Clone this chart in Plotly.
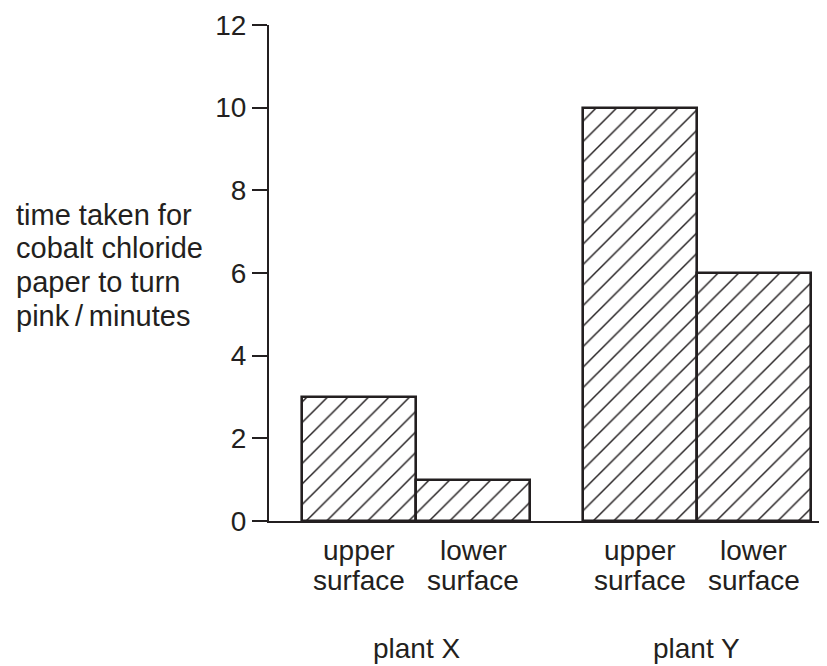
import plotly.graph_objects as go

plants = ["plant X", "plant Y"]
surface_top = ["upper", "lower"]
surface_bottom = ["surface", "surface"]
times = [3, 1, 10, 6]  # minutes: X upper, X lower, Y upper, Y lower
y_ticks = [0, 2, 4, 6, 8, 10, 12]
y_title_lines = ["time taken for", "cobalt chloride", "paper to turn", "pink\u2009/\u2009minutes"]

INK = "#231f20"
FONT = "Liberation Sans, Arial, sans-serif"
FS = 28

W, H = 819, 658
ML, MR, MT, MB = 261, 5, 17, 145
PLOT_H = H - MT - MB
PLOT_W = W - ML - MR


def py(fig_y):
    """pixel row (figure coords) -> paper y"""
    return (H - MB - fig_y) / PLOT_H


def px(fig_x):
    return (fig_x - ML) / PLOT_W


# bar centres in axis units (1 unit = bar width)
first_center = 0.79
group_step = 2.46
xs = []
tops = []
bottoms = []
for g in range(len(plants)):
    for i in range(len(surface_top)):
        xs.append(first_center + g * group_step + i)
        tops.append(surface_top[i])
        bottoms.append(surface_bottom[i])

fig = go.Figure()
fig.add_trace(go.Bar(
    x=xs, y=times, width=1,
    marker=dict(color="white",
                line=dict(color=INK, width=2.6),
                pattern=dict(shape="/", fgcolor=INK, bgcolor="white", size=14.5, solidity=0.1)),
    showlegend=False, hoverinfo="skip",
))

font = dict(family=FONT, size=FS, color=INK)
for x, t, b in zip(xs, tops, bottoms):
    fig.add_annotation(x=x, y=py(542), xref="x", yref="paper", text=t, showarrow=False,
                       font=font, yanchor="middle")
    fig.add_annotation(x=x, y=py(572), xref="x", yref="paper", text=b, showarrow=False,
                       font=font, yanchor="middle")

for g, p in enumerate(plants):
    fig.add_annotation(x=first_center + g * group_step + 0.5, y=py(640), xref="x", yref="paper",
                       text=p, showarrow=False, font=font, yanchor="middle")

for k, line in enumerate(y_title_lines):
    fig.add_annotation(x=px(6), y=py(207 + k * 33.5), xref="paper", yref="paper",
                       xanchor="left", yanchor="middle", text=line, showarrow=False,
                       font=dict(family=FONT, size=29, color=INK))

fig.update_layout(
    template="none",
    width=W, height=H,
    margin=dict(l=ML, r=MR, t=MT, b=MB),
    paper_bgcolor="white", plot_bgcolor="white",
    bargap=0,
    font=font,
    xaxis=dict(range=[0, 4.85], tickvals=xs, showticklabels=False,
               showline=True, linecolor=INK, linewidth=2, ticks="", showgrid=False,
               zeroline=False, automargin=False, fixedrange=True),
    yaxis=dict(range=[0, 12], tickvals=y_ticks, showline=True, linecolor=INK, linewidth=2,
               ticks="outside", ticklen=15, tickwidth=2, tickcolor=INK, showgrid=False,
               zeroline=False, tickfont=font, ticklabelstandoff=0,
               automargin=False, fixedrange=True),
)

fig.write_html("out.html")
